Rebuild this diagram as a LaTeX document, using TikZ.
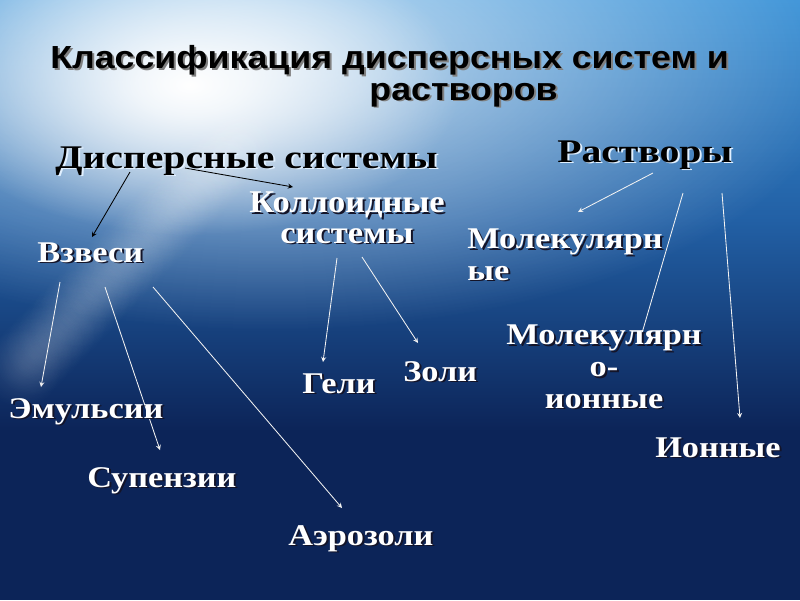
\documentclass[tikz,border=0pt]{standalone}
\usepackage{fontspec}
\setmainfont{Liberation Serif}
\newfontfamily\titlefont[FakeStretch=1.12]{Liberation Sans}
\newfontfamily\headfont[FakeStretch=1.2]{Liberation Serif}
\newfontfamily\itemfont[FakeStretch=1.14]{Liberation Serif}
\newfontfamily\kollfont[FakeStretch=1.09]{Liberation Serif}
\usetikzlibrary{calc,fadings}

\definecolor{skytop}{RGB}{58,146,215}
\definecolor{skymid}{RGB}{34,96,165}
\definecolor{navy}{RGB}{12,36,88}
\definecolor{shadowdark}{RGB}{20,20,40}
\definecolor{shadowlight}{RGB}{225,240,255}

\pgfdeclarelayer{back}
\pgfsetlayers{back,main}

\pgfdeclareradialshading{glowshade}{\pgfpoint{0bp}{0bp}}{%
  color(0bp)=(pgftransparent!0); color(5bp)=(pgftransparent!15);
  color(25bp)=(pgftransparent!100); color(50bp)=(pgftransparent!100)}
\pgfdeclarefading{softglow}{\pgfuseshading{glowshade}}

% text with a small drop shadow
\newcommand{\shd}[2]{\makebox[0pt][l]{\hspace{1.4pt}\raisebox{-1.4pt}{\textcolor{#1}{#2}}}#2}

\begin{document}
\begin{tikzpicture}[x=0.025cm,y=-0.025cm,
  every node/.style={inner sep=0pt},
  head/.style={font=\headfont\fontsize{23.5}{26}\selectfont\bfseries, text=black},
  item/.style={font=\itemfont\fontsize{21.4}{22.7}\selectfont\bfseries, text=white},
  link/.style={-stealth, line width=0.6pt, white!90!gray},
  darklink/.style={-stealth, line width=0.6pt, black}]
\useasboundingbox (0,0) rectangle (800,600);
\begin{pgfonlayer}{back}
\begin{scope}
\clip (0,0) rectangle (800,600);
\shade[top color=skytop, bottom color=skymid] (0,0) rectangle (800,221);
\shade[top color=skymid, bottom color=navy] (0,220) rectangle (800,431);
\fill[navy] (0,430) rectangle (800,600);
\fill[white, path fading=softglow, fill opacity=0.7] (270,60) ellipse (580 and 270);
\fill[white, path fading=softglow] (190,85) ellipse (270 and 150);
% faint ray
\foreach \t in {0,0.05,...,1}
  \fill[white, path fading=softglow, fill opacity=0.1] ($(240,140)!\t!(10,380)$) circle (40);
\end{scope}
\end{pgfonlayer}
%
\node[anchor=base west, align=left, font=\titlefont\fontsize{22.7}{22.7}\selectfont\bfseries] (title) at (50,100)
  {\shd{gray}{Классификация дисперсных систем и}\\\hspace*{227pt}\shd{gray}{растворов}};
%
\node[head, anchor=base west] (disp) at (55,168) {\shd{shadowlight}{Дисперсные системы}};
\node[head, anchor=base west] (rastv) at (557,162) {\shd{shadowlight}{Растворы}};
%
\node[item, font=\kollfont\fontsize{22.5}{22}\selectfont\bfseries, anchor=base, align=center] (koll) at (347,243)
  {\shd{shadowdark}{Коллоидные}\\\shd{shadowdark}{системы}};
\node[item, anchor=base west] (vzv) at (37,262) {\shd{shadowdark}{Взвеси}};
\node[item, anchor=base west, align=left] (mol) at (467,280) {\shd{shadowdark}{Молекулярн}\\\shd{shadowdark}{ые}};
\node[item, anchor=base, align=center] (molion) at (604,408) {\shd{shadowdark}{Молекулярн}\\\shd{shadowdark}{о-}\\\shd{shadowdark}{ионные}};
\node[item, anchor=base west] (ion) at (655,457) {\shd{shadowdark}{Ионные}};
\node[item, anchor=base west] (geli) at (302,393) {\shd{shadowdark}{Гели}};
\node[item, anchor=base west] (zoli) at (403,381) {\shd{shadowdark}{Золи}};
\node[item, anchor=base west] (emul) at (8,418) {\shd{shadowdark}{Эмульсии}};
\node[item, anchor=base west] (supen) at (87,487) {\shd{shadowdark}{Супензии}};
\node[item, anchor=base west] (aero) at (288,545) {\shd{shadowdark}{Аэрозоли}};
%
\begin{pgfonlayer}{back}
\draw[darklink] ($(disp.base west)+(75,4)$) -- ($(vzv.base west)+(55,-25)$);
\draw[darklink] ($(disp.base west)+(130,0)$) -- ($(koll.base)+(-54,-56)$);
\draw[link] ($(rastv.base west)+(96,11)$) -- ($(mol.base west)+(111,-68)$);
\draw[link, -] ($(rastv.base west)+(126,31)$) -- ($(molion.base)+(38,-75)$);
\draw[link] ($(rastv.base west)+(165,31)$) -- ($(ion.base west)+(85,-39)$);
\draw[link] ($(vzv.base west)+(23,20)$) -- ($(emul.base west)+(33,-31)$);
\draw[link] ($(vzv.base west)+(68,25)$) -- ($(supen.base west)+(73,-37)$);
\draw[link] ($(vzv.base west)+(116,25)$) -- ($(aero.base west)+(54,-37)$);
\draw[link] ($(koll.base)+(-10,15)$) -- ($(geli.base west)+(21,-31)$);
\draw[link] ($(koll.base)+(15,14)$) -- ($(zoli.base west)+(15,-38)$);
\end{pgfonlayer}
\end{tikzpicture}
\end{document}
